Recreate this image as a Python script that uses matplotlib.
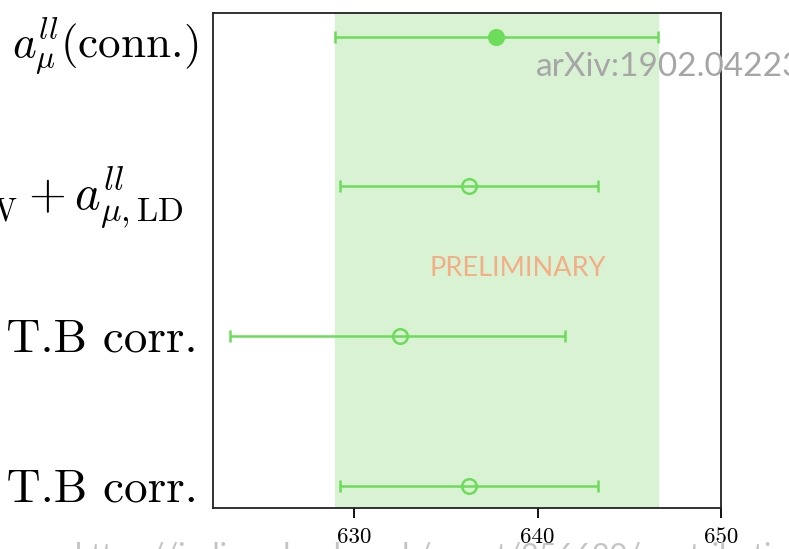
import matplotlib
matplotlib.use("Agg")
import matplotlib.pyplot as plt

plt.rcParams['font.family'] = 'serif'
plt.rcParams['font.serif'] = ['cmr10']
plt.rcParams['mathtext.fontset'] = 'cm'
plt.rcParams['axes.formatter.use_mathtext'] = True

# data
labels = [r"$a_{\mu}^{ll}$(conn.)",
          r"$a_{\mu,\mathrm{SD,W}}^{ll} + a_{\mu,\mathrm{LD}}^{ll}$",
          r"Bounding method, T.B corr.",
          r"Reconstruction, T.B corr."]
label_sizes = [32.5, 35, 34, 34]
label_pads = [11, 21, 11, 11]
ypos = [3, 2, 1, 0]
values = [637.75, 636.25, 632.5, 636.25]
err_lo = [8.8, 7.05, 9.3, 7.05]
err_hi = [8.8, 7.05, 9.0, 7.05]
filled = [True, False, False, False]
xticks = [630, 640, 650]

green = "#6ddc5a"
band = "#d9f2d3"

fig = plt.figure(figsize=(7.89, 5.49), dpi=100)
ax = fig.add_axes([0.27, 0.0747, 0.6438, 0.9016])

ax.axvspan(values[0] - err_lo[0], values[0] + err_hi[0], color=band, zorder=0)

for i in range(len(values)):
    ax.errorbar(values[i], ypos[i], xerr=[[err_lo[i]], [err_hi[i]]],
                fmt='o', color=green, ecolor=green, elinewidth=1.8,
                capsize=4, capthick=1.8, markersize=10.5, mew=1.8,
                mfc=green if filled[i] else 'none', mec=green, zorder=3)

ax.set_xlim(622.3, 650)
ax.set_ylim(-0.15, 3.16)
ax.set_xticks(xticks)
ax.set_xticklabels([str(t) for t in xticks])
ax.set_yticks(ypos)
ax.set_yticklabels(labels)
ax.tick_params(axis='y', length=0)
ax.tick_params(axis='x', length=7.2, width=1.3, pad=7, labelsize=16.5)
for tk, s, p in zip(ax.yaxis.get_major_ticks(), label_sizes, label_pads):
    tk.label1.set_fontsize(s)
    tk.set_pad(p)
for s in ax.spines.values():
    s.set_linewidth(1.3)
    s.set_color("#222222")

fig.text(536 / 789, 1 - 67 / 549, "arXiv:1902.04223", color="#a6a6a6",
         fontsize=24, family="Lato", va='center', ha='left')
fig.text(430 / 789, 1 - 268 / 549, "PRELIMINARY", color="#f4ae85",
         fontsize=19.5, family="Lato", va='center', ha='left')
fig.text(75 / 789, 1 - 542 / 549, "https://indico.ph.ed.ac.uk/event/256620/contributions/4117230/",
         color="#c4c4c4", fontsize=22, family="Lato", va='top', ha='left')

fig.savefig("out.png", dpi=100)
